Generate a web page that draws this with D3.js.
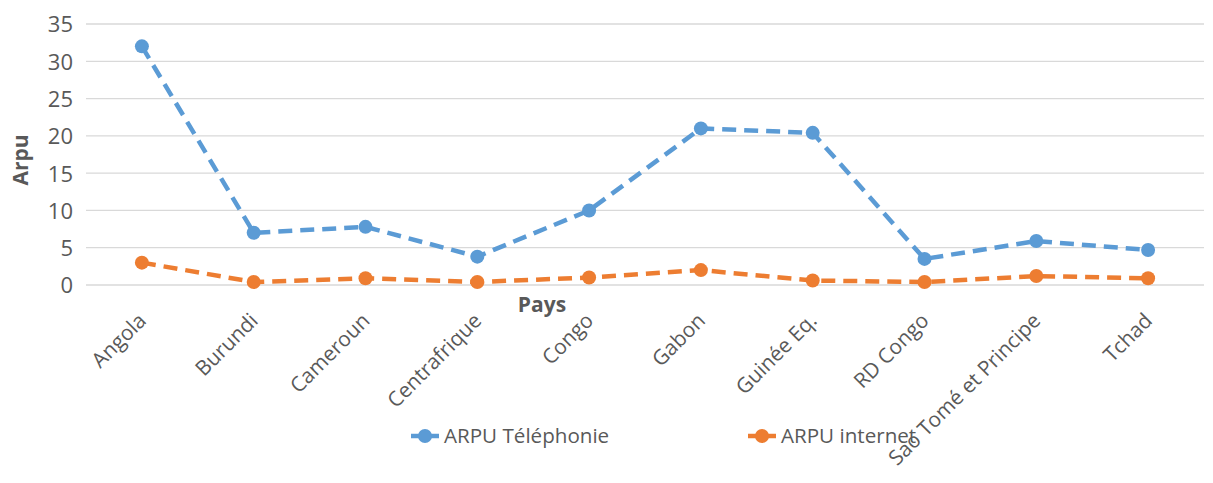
<!DOCTYPE html>
<html><head><meta charset="utf-8">
<script src="https://cdn.jsdelivr.net/npm/d3@7"></script>
<style>body{margin:0;background:#fff;} svg{display:block;}</style>
</head><body>
<script>
const categories = ["Angola","Burundi","Cameroun","Centrafrique","Congo","Gabon","Guinée Eq.","RD Congo","Sao Tomé et Principe","Tchad"];
const arpuTelephonie = [32, 7, 7.8, 3.8, 10, 21, 20.4, 3.5, 5.9, 4.7];
const arpuInternet = [3, 0.4, 0.9, 0.4, 1.0, 2.0, 0.6, 0.4, 1.2, 0.9];
const yTicks = [0,5,10,15,20,25,30,35];
const seriesNames = ["ARPU Téléphonie","ARPU internet"];
const colors = ["#5B9BD5","#ED7D31"];

(function(){
const W=1213,H=483;
const svg=d3.select("body").append("svg").attr("width",W).attr("height",H);
const mL=86,mR=1204,mT=24,mB=285;
const x=d3.scalePoint().domain(categories).range([mL,mR]).padding(0.5);
const y=d3.scaleLinear().domain([0,35]).range([mB,mT]);
const font="'Open Sans', sans-serif";
const grey="#595959";

svg.append("g").selectAll("line").data(yTicks).join("line")
  .attr("x1",mL).attr("x2",mR).attr("y1",d=>y(d)).attr("y2",d=>y(d))
  .attr("stroke","#d9d9d9").attr("stroke-width",1.3);

const ya=svg.append("g").attr("transform",`translate(${mL},0)`)
  .call(d3.axisLeft(y).tickValues(yTicks).tickSize(0).tickPadding(13));
ya.select(".domain").remove();
ya.selectAll("text").attr("font-family",font).attr("font-size",22).attr("fill",grey).attr("dy","0.36em");

const xa=svg.append("g").attr("transform",`translate(0,${mB})`)
  .call(d3.axisBottom(x).tickSize(0).tickPadding(0));
xa.select(".domain").remove();
xa.selectAll("text").attr("font-family",font).attr("font-size",20.8).attr("fill",grey)
  .attr("text-anchor","end").attr("dy",0).attr("y",0)
  .attr("transform","translate(5,37) rotate(-45)");

svg.append("text").attr("transform","translate(28,160) rotate(-90)").attr("text-anchor","middle")
  .attr("font-family",font).attr("font-weight","bold").attr("font-size",21).attr("fill",grey).text("Arpu");
svg.append("text").attr("x",542).attr("y",312).attr("text-anchor","middle")
  .attr("font-family",font).attr("font-weight","bold").attr("font-size",21).attr("fill",grey).text("Pays");

const series=[arpuTelephonie,arpuInternet];
const line=d3.line().x((d,i)=>x(categories[i])).y(d=>y(d));
series.forEach((s,k)=>{
  svg.append("path").datum(s).attr("d",line).attr("fill","none")
    .attr("stroke",colors[k]).attr("stroke-width",4.5).attr("stroke-dasharray","14,8");
  svg.append("g").selectAll("circle").data(s).join("circle")
    .attr("cx",(d,i)=>x(categories[i])).attr("cy",d=>y(d)).attr("r",7).attr("fill",colors[k]);
});

const legX=[425,762];
seriesNames.forEach((n,k)=>{
  const g=svg.append("g").attr("transform",`translate(${legX[k]},436)`);
  g.append("line").attr("x1",-14).attr("x2",14).attr("stroke",colors[k]).attr("stroke-width",4.5);
  g.append("circle").attr("r",7).attr("fill",colors[k]);
  g.append("text").attr("x",19).attr("y",7).attr("font-family",font).attr("font-size",20.6).attr("fill",grey).text(n);
});
})();
</script>
</body></html>
